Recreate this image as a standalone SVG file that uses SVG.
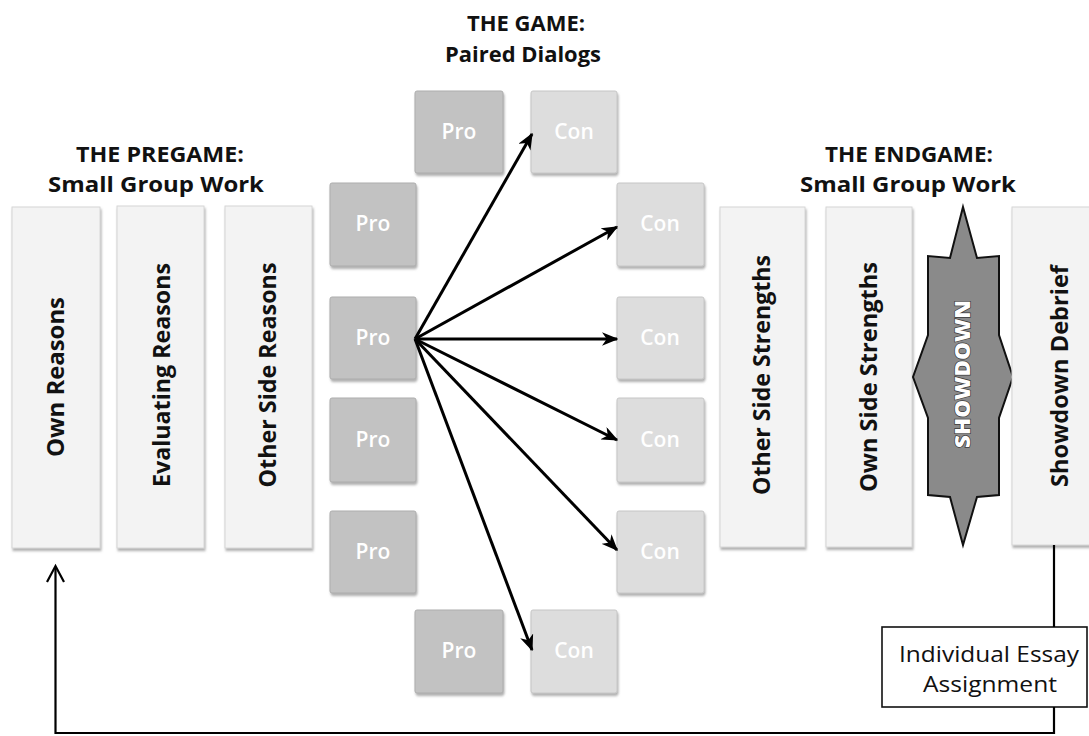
<svg xmlns="http://www.w3.org/2000/svg" width="1089" height="736" viewBox="0 0 1089 736">
<style>
  .title { font-family: "Open Sans", "Liberation Sans", sans-serif; font-weight: 700; font-size: 21px; fill: #111; text-anchor: middle; }
  .panel { fill: #f3f3f3; stroke: #d6d6d6; stroke-width: 1; }
  .ptext { font-family: "Open Sans", "Liberation Sans", sans-serif; font-weight: 700; font-size: 23px; fill: #111; text-anchor: middle; }
  .pro { fill: #c2c2c2; stroke: #adadad; stroke-width: 1; }
  .con { fill: #dddddd; stroke: #c6c6c6; stroke-width: 1; }
  .pc { font-family: "Open Sans", "Liberation Sans", sans-serif; font-weight: 600; font-size: 21px; fill: #ffffff; text-anchor: middle; }
  .conn { stroke: #000; stroke-width: 3; fill: none; }
  .line { stroke: #000; stroke-width: 2.2; fill: none; }
  .essay { font-family: "Open Sans", "Liberation Sans", sans-serif; font-size: 22px; fill: #111; text-anchor: middle; }
</style>
<defs>
  <filter id="sh" x="-10%" y="-10%" width="120%" height="120%">
    <feDropShadow dx="1" dy="2.5" stdDeviation="1.2" flood-color="#7a7a7a" flood-opacity="0.6"/>
  </filter>
  <marker id="ah" viewBox="0 0 12 10" refX="11" refY="5" markerWidth="5.5" markerHeight="4.6" markerUnits="strokeWidth" orient="auto">
    <path d="M0,0 L12,5 L0,10 L3.5,5 z" fill="#000"/>
  </marker>
</defs>

<!-- Titles -->
<g id="title-game">
  <text class="title" x="526" y="31" textLength="118" lengthAdjust="spacingAndGlyphs">THE GAME:</text>
  <text class="title" x="523" y="62" textLength="156" lengthAdjust="spacingAndGlyphs">Paired Dialogs</text>
</g>
<g id="title-pregame">
  <text class="title" x="160" y="162" textLength="168" lengthAdjust="spacingAndGlyphs">THE PREGAME:</text>
  <text class="title" x="156" y="192" textLength="216" lengthAdjust="spacingAndGlyphs">Small Group Work</text>
</g>
<g id="title-endgame">
  <text class="title" x="909" y="162" textLength="168" lengthAdjust="spacingAndGlyphs">THE ENDGAME:</text>
  <text class="title" x="908" y="192" textLength="216" lengthAdjust="spacingAndGlyphs">Small Group Work</text>
</g>

<!-- Pregame panels -->
<g id="own-reasons">
  <rect class="panel" x="12" y="207" width="88" height="341" filter="url(#sh)"/>
  <text class="ptext" transform="translate(64,377) rotate(-90)" textLength="160" lengthAdjust="spacingAndGlyphs">Own Reasons</text>
</g>
<g id="evaluating-reasons">
  <rect class="panel" x="117" y="206" width="87" height="342" filter="url(#sh)"/>
  <text class="ptext" transform="translate(170,375) rotate(-90)" textLength="224" lengthAdjust="spacingAndGlyphs">Evaluating Reasons</text>
</g>
<g id="other-side-reasons">
  <rect class="panel" x="225" y="206" width="87" height="342" filter="url(#sh)"/>
  <text class="ptext" transform="translate(276,375) rotate(-90)" textLength="225" lengthAdjust="spacingAndGlyphs">Other Side Reasons</text>
</g>

<!-- Game: Pro boxes -->
<g id="pro-top">
  <rect class="pro" x="415" y="91" width="88" height="82" rx="2" filter="url(#sh)"/>
  <text class="pc" x="459" y="139">Pro</text>
</g>
<g id="pro-1">
  <rect class="pro" x="330" y="183" width="86" height="83" rx="2" filter="url(#sh)"/>
  <text class="pc" x="373" y="231">Pro</text>
</g>
<g id="pro-2">
  <rect class="pro" x="330" y="297" width="86" height="82" rx="2" filter="url(#sh)"/>
  <text class="pc" x="373" y="345">Pro</text>
</g>
<g id="pro-3">
  <rect class="pro" x="330" y="398" width="86" height="84" rx="2" filter="url(#sh)"/>
  <text class="pc" x="373" y="447">Pro</text>
</g>
<g id="pro-4">
  <rect class="pro" x="330" y="511" width="86" height="82" rx="2" filter="url(#sh)"/>
  <text class="pc" x="373" y="559">Pro</text>
</g>
<g id="pro-bottom">
  <rect class="pro" x="415" y="610" width="88" height="83" rx="2" filter="url(#sh)"/>
  <text class="pc" x="459" y="658">Pro</text>
</g>

<!-- Game: Con boxes -->
<g id="con-top">
  <rect class="con" x="531" y="91" width="86" height="82" rx="2" filter="url(#sh)"/>
  <text class="pc" x="574" y="139">Con</text>
</g>
<g id="con-1">
  <rect class="con" x="617" y="183" width="87" height="83" rx="2" filter="url(#sh)"/>
  <text class="pc" x="660" y="231">Con</text>
</g>
<g id="con-2">
  <rect class="con" x="617" y="297" width="87" height="82" rx="2" filter="url(#sh)"/>
  <text class="pc" x="660" y="345">Con</text>
</g>
<g id="con-3">
  <rect class="con" x="617" y="398" width="87" height="84" rx="2" filter="url(#sh)"/>
  <text class="pc" x="660" y="447">Con</text>
</g>
<g id="con-4">
  <rect class="con" x="617" y="511" width="87" height="82" rx="2" filter="url(#sh)"/>
  <text class="pc" x="660" y="559">Con</text>
</g>
<g id="con-bottom">
  <rect class="con" x="531" y="610" width="86" height="83" rx="2" filter="url(#sh)"/>
  <text class="pc" x="574" y="658">Con</text>
</g>

<!-- Endgame panels -->
<g id="other-side-strengths">
  <rect class="panel" x="720" y="207" width="85" height="340" filter="url(#sh)"/>
  <text class="ptext" transform="translate(770,375) rotate(-90)" textLength="240" lengthAdjust="spacingAndGlyphs">Other Side Strengths</text>
</g>
<g id="own-side-strengths">
  <rect class="panel" x="826" y="207" width="86" height="340" filter="url(#sh)"/>
  <text class="ptext" transform="translate(877,377) rotate(-90)" textLength="230" lengthAdjust="spacingAndGlyphs">Own Side Strengths</text>
</g>
<g id="showdown">
  <polygon points="963,207 977,258 999,256 999,335 1013,377 999,418 999,495 977,497 963,545 950,497 928,495 928,418 913,377 928,335 928,256 950,258" fill="#8a8a8a" stroke="#111" stroke-width="2" stroke-linejoin="miter"/>
  <text transform="translate(970,374) rotate(-90)" font-family="Open Sans, Liberation Sans, sans-serif" font-weight="800" font-size="21" fill="#fff" stroke="#3a3a3a" stroke-width="1.4" paint-order="stroke" text-anchor="middle" textLength="148" lengthAdjust="spacingAndGlyphs">SHOWDOWN</text>
</g>
<g id="showdown-debrief">
  <rect class="panel" x="1012" y="207" width="90" height="338" filter="url(#sh)"/>
  <text class="ptext" transform="translate(1068,376) rotate(-90)" textLength="222" lengthAdjust="spacingAndGlyphs">Showdown Debrief</text>
</g>

<!-- Essay box -->
<g id="essay">
  <rect x="882" y="627" width="205" height="80" fill="#fff" stroke="#111" stroke-width="1.6"/>
  <text class="essay" x="989" y="662" textLength="180" lengthAdjust="spacingAndGlyphs">Individual Essay</text>
  <text class="essay" x="990" y="692" textLength="134" lengthAdjust="spacingAndGlyphs">Assignment</text>
</g>

<!-- Connectors -->
<g id="connectors">
  <line class="conn" x1="415" y1="339" x2="532" y2="134" marker-end="url(#ah)"/>
  <line class="conn" x1="415" y1="339" x2="617" y2="227" marker-end="url(#ah)"/>
  <line class="conn" x1="415" y1="339" x2="617" y2="339" marker-end="url(#ah)"/>
  <line class="conn" x1="415" y1="339" x2="617" y2="440" marker-end="url(#ah)"/>
  <line class="conn" x1="415" y1="339" x2="617" y2="550" marker-end="url(#ah)"/>
  <line class="conn" x1="415" y1="339" x2="532" y2="650" marker-end="url(#ah)"/>
  <line class="line" x1="1054" y1="545" x2="1054" y2="627"/>
  <polyline class="line" points="1054,707 1054,733 55.5,733 55.5,567"/>
  <polyline class="line" points="47,582 55.5,566 64,582" stroke-width="2.6"/>
</g>
</svg>
